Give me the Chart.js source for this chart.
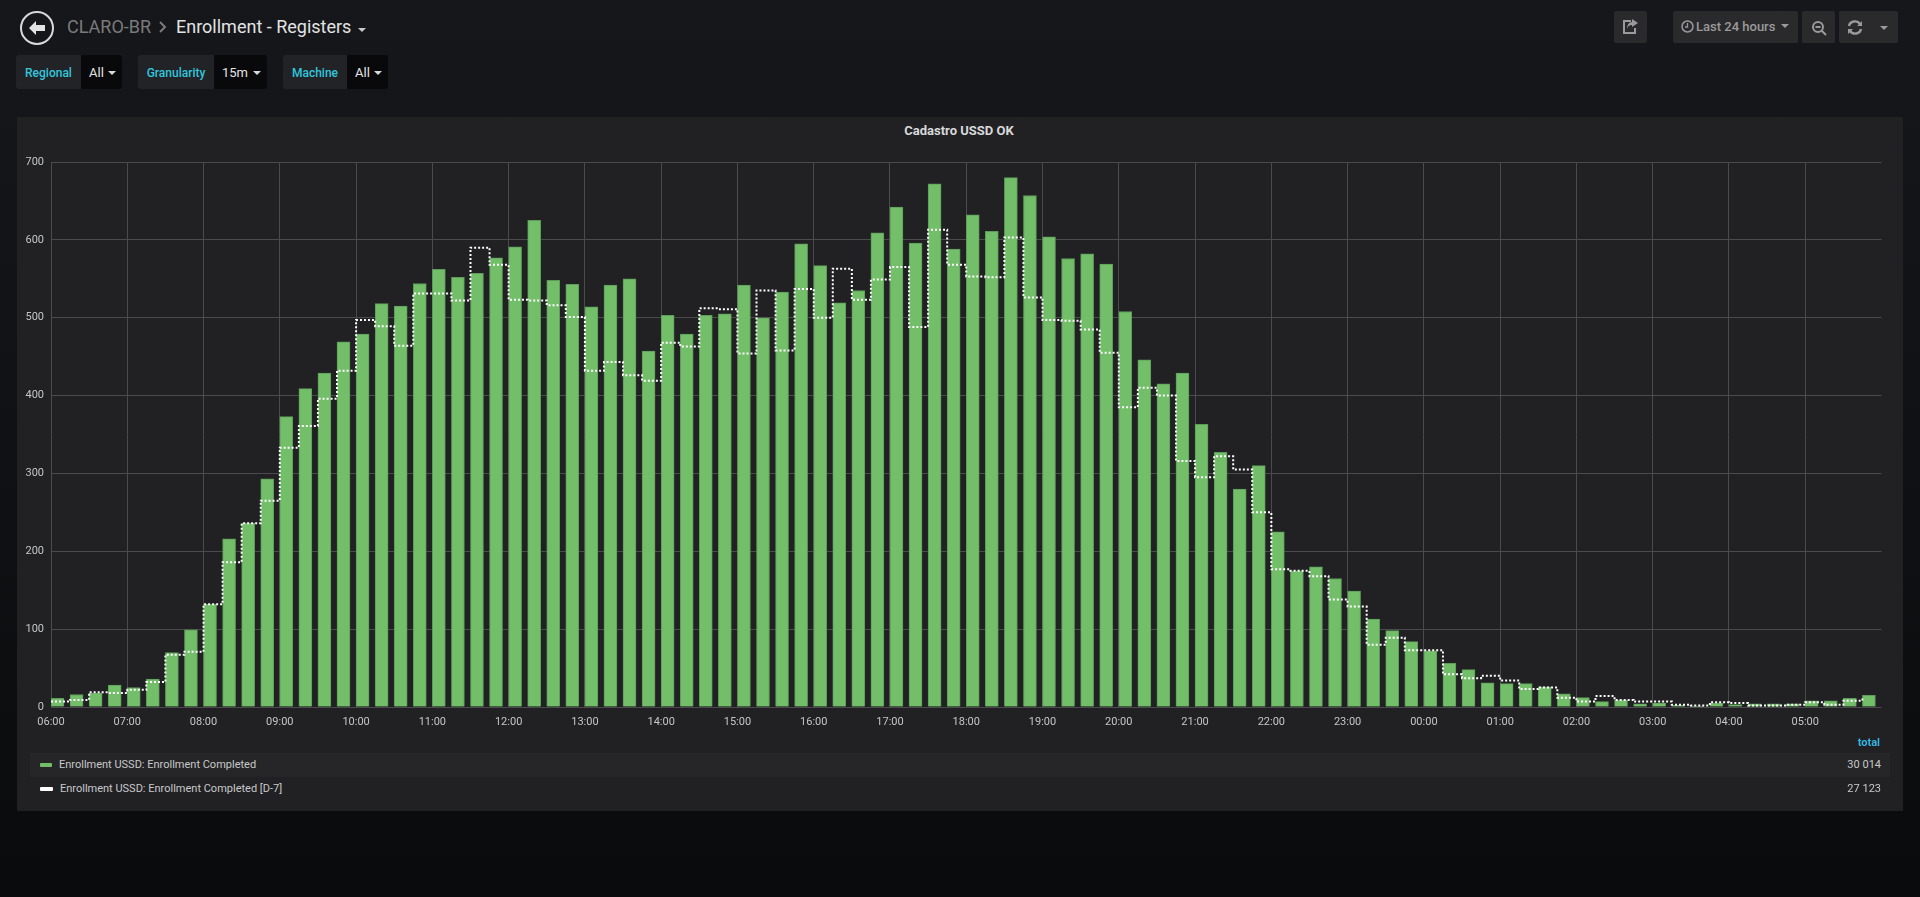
<!DOCTYPE html>
<html>
<head>
<meta charset="utf-8">
<title>Enrollment - Registers</title>
<script src="https://cdn.jsdelivr.net/npm/chart.js@4/dist/chart.umd.min.js"></script>
<style>
  html, body { margin: 0; padding: 0; width: 1920px; height: 897px; overflow: hidden; }
  body { position: relative; background: linear-gradient(#15171a, #0a0b0d); font-family: Roboto, sans-serif; color: #d8d9da; }
  .abs { position: absolute; white-space: nowrap; }
  .crumb { font-size: 18px; top: 16px; line-height: 22px; }
  .var-label { background: #212327; color: #33c6dc; font-size: 12px; font-weight: 500; top: 55px; height: 34px; line-height: 36px; text-align: center; border-radius: 3px 0 0 3px; }
  .var-value { background: #09090b; color: #e3e3e3; font-size: 13px; top: 55px; height: 34px; line-height: 35px; padding-left: 8px; box-sizing: border-box; border-radius: 0 3px 3px 0; }
  .caret { position: absolute; width: 0; height: 0; border-left: 4px solid transparent; border-right: 4px solid transparent; border-top: 4px solid #d8d9da; }
  .btn { position: absolute; top: 11px; height: 32px; background: #2a2a2d; border-radius: 2px; }
  #panel { left: 17px; top: 117px; width: 1886px; height: 694px; background: #212124; }
  #chart-box { position: absolute; left: 17px; top: 117px; width: 1884px; height: 640px; }
  #panel-title { left: 17px; width: 1884px; top: 123px; text-align: center; font-size: 13px; font-weight: 700; line-height: 15px; color: #d8d9da; }
  .legend-text { font-size: 11px; line-height: 14px; color: #c8c9ca; }
  .legend-total { font-size: 11px; line-height: 14px; color: #c8c9ca; text-align: right; left: 1781px; width: 100px; }
</style>
</head>
<body>

<svg class="abs" style="left:19px;top:10px" width="36" height="36" viewBox="0 0 36 36">
  <circle cx="18" cy="18" r="16" fill="none" stroke="#d8d9da" stroke-width="2"/>
  <path d="M10 18 L17 11 L17 15 L26 15 L26 21 L17 21 L17 25 Z" fill="#e3e3e3"/>
</svg>
<div class="abs crumb" style="left:67px;color:#7b7b7b">CLARO-BR</div>
<svg class="abs" style="left:158px;top:20px" width="10" height="14" viewBox="0 0 10 14">
  <path d="M2 2 L7 7 L2 12" fill="none" stroke="#7b7b7b" stroke-width="2"/>
</svg>
<div class="abs crumb" style="left:176px;color:#e3e3e3">Enrollment - Registers</div>
<div class="caret" style="left:358px;top:28px;border-top-color:#c8c9ca"></div>

<div class="abs var-label" style="left:16px;width:65px">Regional</div>
<div class="abs var-value" style="left:81px;width:41px">All</div>
<div class="caret" style="left:108px;top:71px"></div>
<div class="abs var-label" style="left:138px;width:76px">Granularity</div>
<div class="abs var-value" style="left:214px;width:53px">15m</div>
<div class="caret" style="left:253px;top:71px"></div>
<div class="abs var-label" style="left:283px;width:64px">Machine</div>
<div class="abs var-value" style="left:347px;width:41px">All</div>
<div class="caret" style="left:374px;top:71px"></div>

<div class="btn" style="left:1614px;width:33px"></div>
<svg class="abs" style="left:1622px;top:19px" width="17" height="16" viewBox="0 0 17 16">
  <path d="M9 2 H2 V14 H13 V9" fill="none" stroke="#9a9a9a" stroke-width="2"/>
  <path d="M10 0 L16 4 L10 8 V6 C7 6 6 7 5 10 C5 6 7 3 10 3 Z" fill="#9a9a9a"/>
</svg>
<div class="btn" style="left:1673px;width:125px"></div>
<svg class="abs" style="left:1681px;top:20px" width="13" height="13" viewBox="0 0 13 13">
  <circle cx="6.5" cy="6.5" r="5.5" fill="none" stroke="#9a9a9a" stroke-width="1.5"/>
  <path d="M6.5 3 V7 H4" fill="none" stroke="#9a9a9a" stroke-width="1.3"/>
</svg>
<div class="abs" style="left:1696px;top:11px;line-height:32px;font-size:13px;font-weight:500;color:#9a9a9a">Last 24 hours</div>
<div class="caret" style="left:1781px;top:24px;border-top-color:#9a9a9a"></div>
<div class="btn" style="left:1802px;width:33px"></div>
<svg class="abs" style="left:1811px;top:20px" width="16" height="16" viewBox="0 0 16 16">
  <circle cx="7" cy="7" r="5" fill="none" stroke="#9a9a9a" stroke-width="2"/>
  <path d="M4.5 7 H9.5 M10.5 10.5 L15 15" fill="none" stroke="#9a9a9a" stroke-width="2"/>
</svg>
<div class="btn" style="left:1839px;width:59px"></div>
<svg class="abs" style="left:1847px;top:20px" width="16" height="15" viewBox="0 0 16 15">
  <path d="M2 6 A6 5.5 0 0 1 13 4 M14 9 A6 5.5 0 0 1 3 11" fill="none" stroke="#9a9a9a" stroke-width="2.4"/>
  <path d="M15 1 V6 H10 Z M1 14 V9 H6 Z" fill="#9a9a9a"/>
</svg>
<div class="caret" style="left:1880px;top:26px;border-top-color:#9a9a9a"></div>

<div id="panel" class="abs"></div>
<div id="panel-title" class="abs">Cadastro USSD OK</div>
<div id="chart-box"><canvas id="myChart"></canvas></div>

<div class="abs" style="left:1840px;width:40px;top:736px;line-height:14px;font-size:11px;font-weight:700;color:#33b5e5;text-align:right">total</div>
<div class="abs" style="left:30px;top:753px;width:1860px;height:24px;background:#262628"></div>
<div class="abs" style="left:40px;top:763px;width:12px;height:4px;border-radius:1px;background:#73bf69"></div>
<div class="abs legend-text" style="left:59px;top:758px">Enrollment USSD: Enrollment Completed</div>
<div class="abs legend-total" style="top:758px">30 014</div>
<div class="abs" style="left:40px;top:787px;width:13px;height:4px;border-radius:1px;background:#ffffff"></div>
<div class="abs legend-text" style="left:60px;top:782px">Enrollment USSD: Enrollment Completed [D-7]</div>
<div class="abs legend-total" style="top:782px">27 123</div>

<script>
// Hour labels, one every 4 buckets of 15 minutes
let hourLabels = ['06:00', '07:00', '08:00', '09:00', '10:00', '11:00', '12:00', '13:00',
  '14:00', '15:00', '16:00', '17:00', '18:00', '19:00', '20:00', '21:00', '22:00', '23:00',
  '00:00', '01:00', '02:00', '03:00', '04:00', '05:00'];

let completedName = 'Enrollment USSD: Enrollment Completed';
let previousName = 'Enrollment USSD: Enrollment Completed [D-7]';

// Values, one per 15 minutes starting at 06:00
let completedValues = [
  11, 16, 18, 28, 25, 36, 70, 99,
  132, 216, 236, 293, 373, 409, 429, 469,
  479, 518, 515, 544, 562, 552, 557, 577,
  591, 625, 548, 543, 514, 542, 550, 457,
  503, 479, 503, 505, 542, 500, 533, 595,
  567, 519, 535, 609, 642, 596, 672, 588,
  632, 611, 680, 657, 604, 576, 582, 569,
  508, 446, 415, 429, 363, 327, 280, 310,
  225, 175, 180, 165, 149, 113, 98, 84,
  72, 56, 48, 31, 30, 30, 26, 17,
  12, 7, 9, 4, 5, 2, 1, 5,
  3, 4, 4, 4, 8, 8, 11, 15
];

let previousValues = [
  7, 9, 19, 18, 22, 32, 67, 71,
  132, 186, 236, 265, 333, 361, 396, 432,
  497, 489, 464, 531, 531, 522, 590, 568,
  523, 522, 516, 501, 432, 443, 426, 419,
  468, 463, 512, 511, 454, 535, 458, 537,
  500, 563, 523, 549, 565, 488, 613, 568,
  553, 552, 603, 526, 497, 496, 485, 455,
  385, 410, 400, 316, 295, 322, 305, 250,
  177, 175, 168, 138, 129, 80, 89, 73,
  73, 42, 37, 40, 34, 23, 25, 12,
  7, 14, 9, 7, 7, 3, 2, 6,
  5, 2, 2, 3, 6, 3, 8, 11
];

let yMax = 700;
let yStep = 100;

let gridColor = '#4b4b4e';
let tickColor = '#c4c5c6';

// bars start on the bucket's left edge, so they are shifted inside their 15 minutes
let barOffset = 0.34;

const ctx = document.getElementById('myChart');

let completedPoints = completedValues.map((v, i) => ({ x: i + barOffset, y: v }));
let previousPoints = previousValues.map((v, i) => ({ x: i, y: v }));

new Chart(ctx, {
  type: 'bar',
  data: {
    datasets: [{
      label: completedName,
      data: completedPoints,
      backgroundColor: '#73bf69',
      borderColor: '#5c9c58',
      borderWidth: 1,
      borderSkipped: 'bottom',
      barThickness: 13,
      order: 2
    },
    {
      type: 'line',
      label: previousName,
      data: previousPoints,
      stepped: true,
      borderColor: '#ffffff',
      borderWidth: 2,
      borderDash: [2, 2],
      pointRadius: 0,
      fill: false,
      order: 1
    }]
  },
  options: {
    responsive: true,
    maintainAspectRatio: false,
    animation: false,
    layout: {
      padding: { left: 0, right: 19.5, top: 45, bottom: 26 }
    },
    plugins: {
      legend: { display: false },
      tooltip: { enabled: false }
    },
    scales: {
      x: {
        type: 'linear',
        offset: false,
        min: 0,
        max: hourLabels.length * 4,
        afterFit: (scale) => { scale.height = 24; },
        border: { display: false },
        grid: {
          offset: false,
          drawTicks: false,
          color: (c) => (c.tick && c.tick.value === hourLabels.length * 4 ? 'transparent' : gridColor)
        },
        ticks: {
          stepSize: 4,
          autoSkip: false,
          maxRotation: 0,
          padding: 9,
          color: tickColor,
          font: { family: 'Roboto', size: 11 },
          callback: (value) => hourLabels[value / 4] || ''
        }
      },
      y: {
        min: 0,
        max: yMax,
        afterFit: (scale) => { scale.width = 34; },
        border: { display: false },
        grid: { drawTicks: false, color: gridColor },
        ticks: {
          stepSize: yStep,
          padding: 7,
          color: tickColor,
          font: { family: 'Roboto', size: 11 }
        }
      }
    }
  }
});
</script>
</body>
</html>
